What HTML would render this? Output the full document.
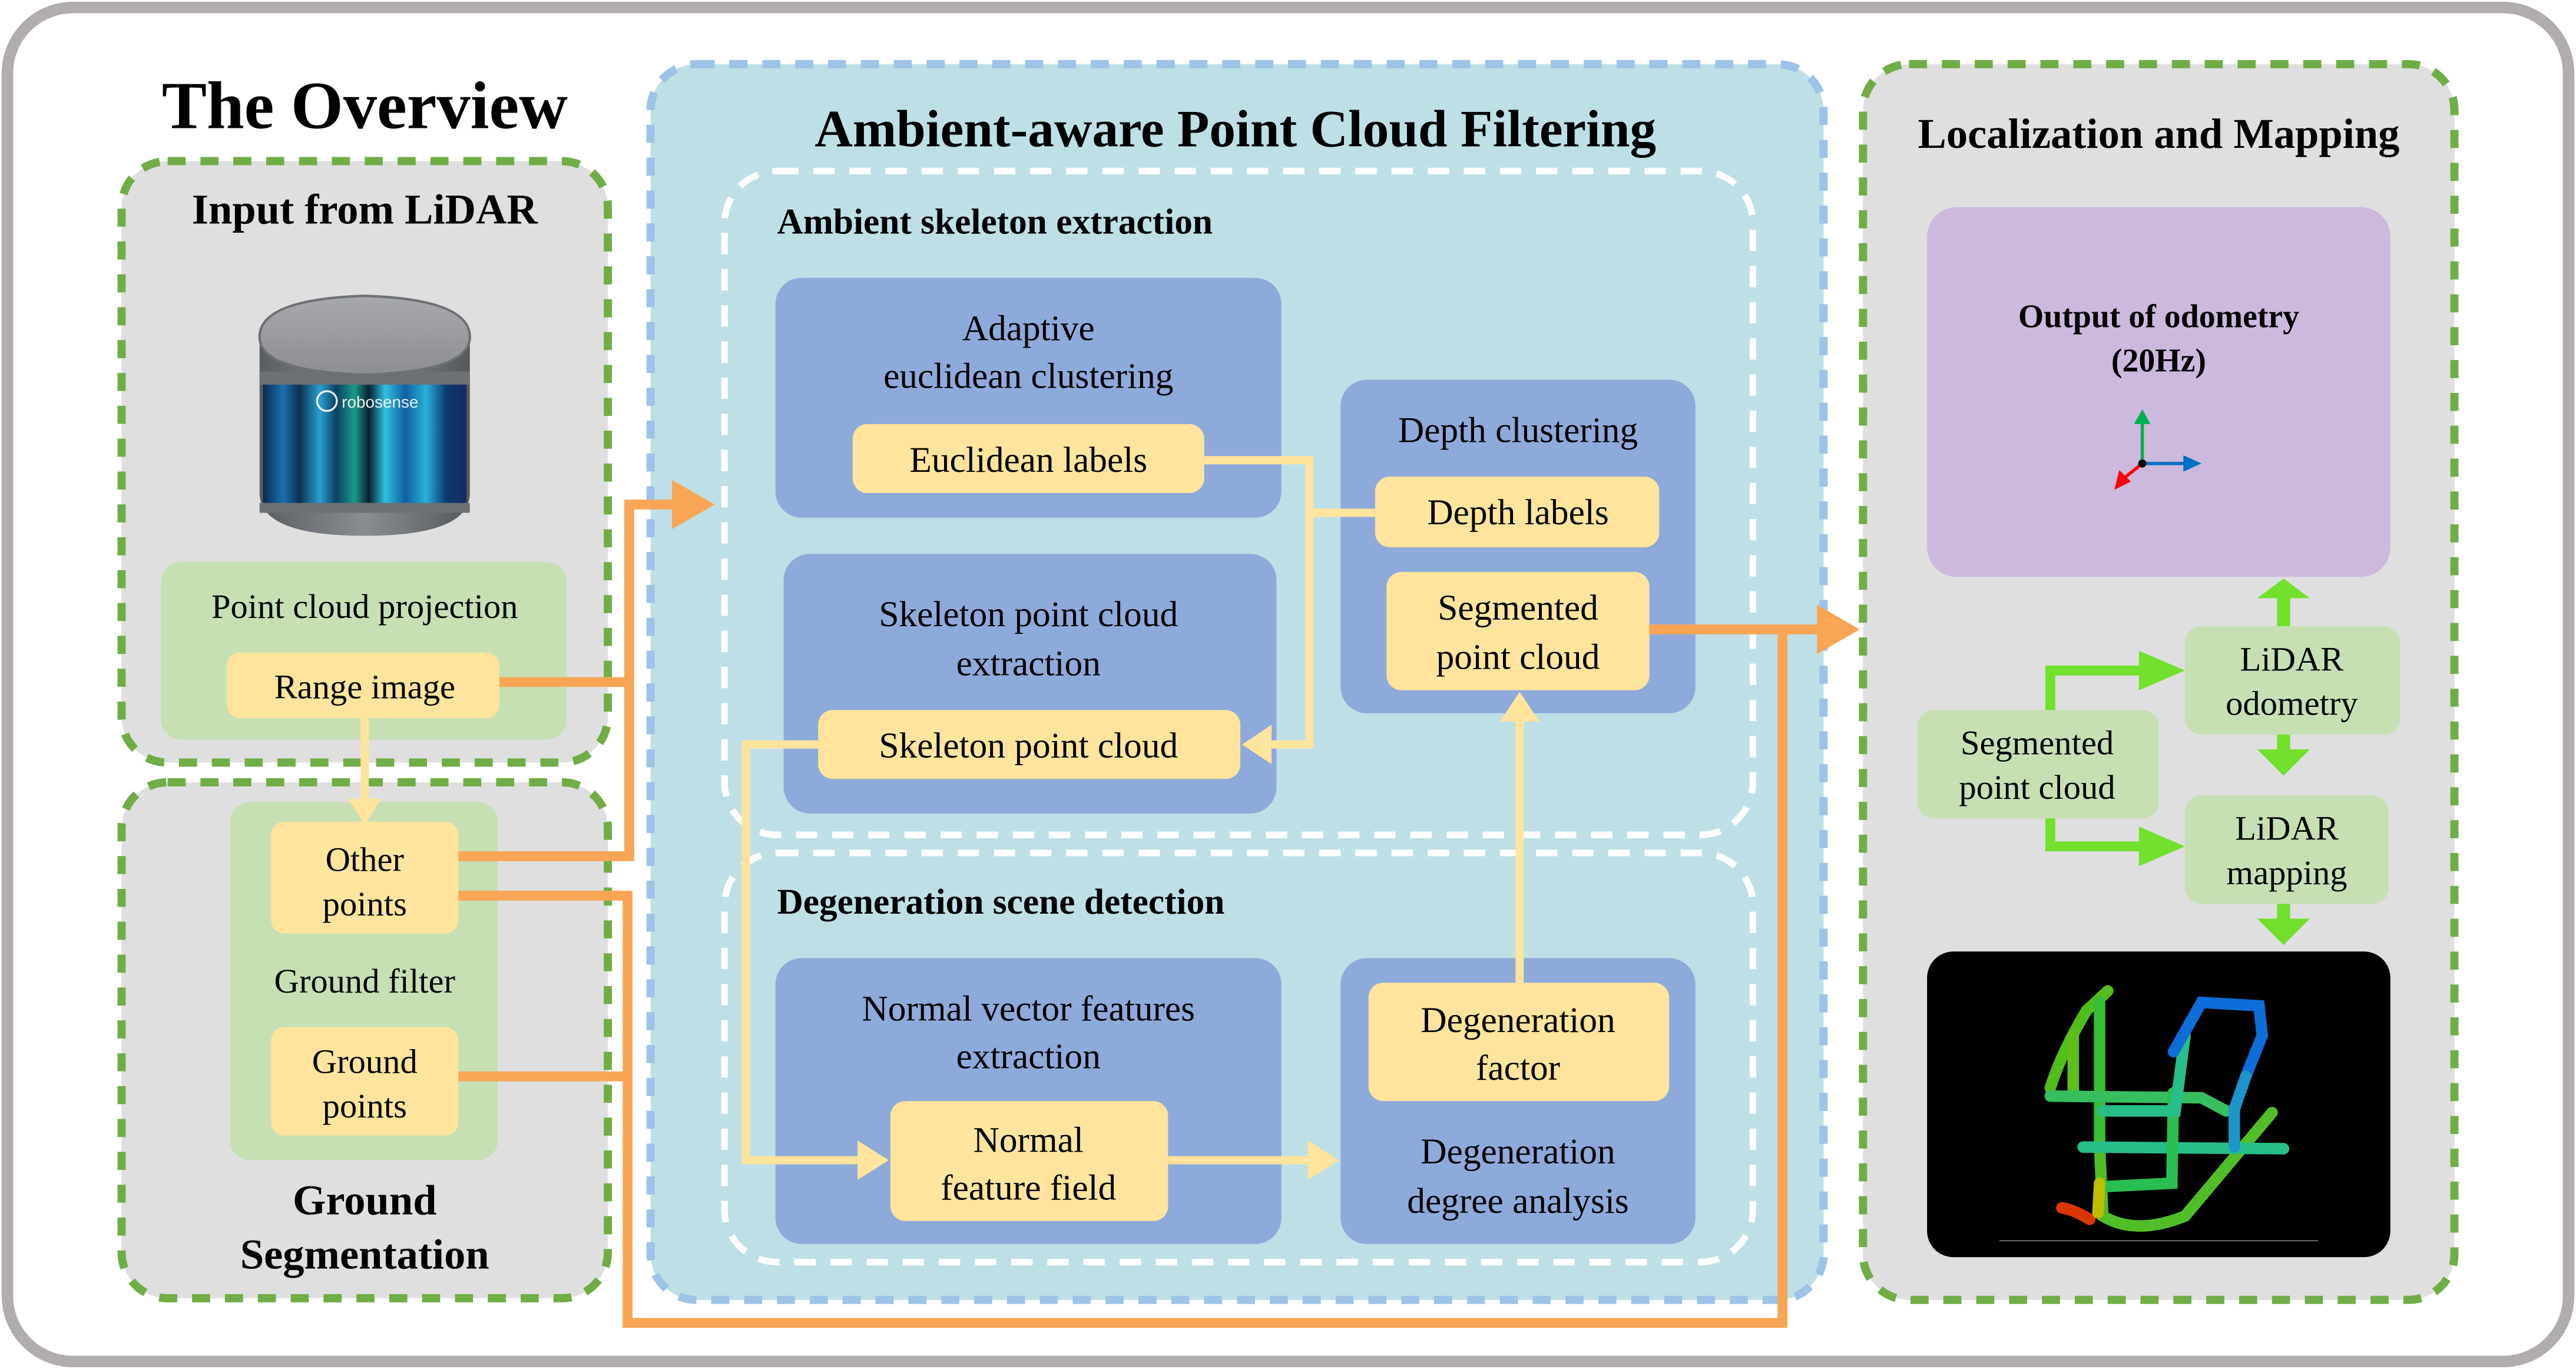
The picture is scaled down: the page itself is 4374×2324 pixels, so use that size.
<!DOCTYPE html>
<html><head><meta charset="utf-8"><style>html,body{margin:0;padding:0;background:#fff}svg{display:block}svg text{font-family:"Liberation Serif","Times New Roman",serif}</style></head>
<body>
<svg xmlns="http://www.w3.org/2000/svg" width="4374" height="2324" viewBox="0 0 1568 833" style="font-family:'Liberation Serif',serif">
<defs>
<linearGradient id="band" x1="0" x2="1">
<stop offset="0" stop-color="#0a2a50"/><stop offset="0.1" stop-color="#1c6fb0"/><stop offset="0.18" stop-color="#0b3050"/><stop offset="0.28" stop-color="#2aa0d0"/><stop offset="0.36" stop-color="#0a4060"/><stop offset="0.45" stop-color="#1b9a8a"/><stop offset="0.52" stop-color="#062030"/><stop offset="0.6" stop-color="#30c0e0"/><stop offset="0.7" stop-color="#1060a0"/><stop offset="0.8" stop-color="#2ab0d8"/><stop offset="0.9" stop-color="#0a3a70"/><stop offset="1" stop-color="#1a2a60"/>
</linearGradient>
<linearGradient id="metal" x1="0" x2="1"><stop offset="0" stop-color="#5a5d63"/><stop offset="0.5" stop-color="#8a8d92"/><stop offset="1" stop-color="#55585d"/></linearGradient>
<linearGradient id="top" x1="0" y1="0" x2="0" y2="1"><stop offset="0" stop-color="#a8a9ad"/><stop offset="1" stop-color="#8d8e92"/></linearGradient>
</defs>
<rect x="0" y="0" width="1568" height="833" fill="#fff"/>
<rect x="4.5" y="4.5" width="1559" height="824" rx="40" fill="#fff" stroke="#b0adac" stroke-width="7"/>

<text x="222" y="78" font-size="41" font-weight="bold" text-anchor="middle">The Overview</text>

<!-- Input from LiDAR -->
<rect x="74" y="98" width="296" height="366" rx="28" fill="#dfdfdf" stroke="#70ad47" stroke-width="5" stroke-dasharray="11 9"/>
<text x="222" y="136" font-size="26" font-weight="bold" text-anchor="middle">Input from LiDAR</text>
<g>
<path d="M158 205 L158 300 Q158 326 222 326 Q286 326 286 300 L286 205 Z" fill="url(#metal)"/>
<rect x="160" y="232" width="124" height="78" fill="url(#band)"/>
<rect x="158" y="226" width="128" height="8" fill="#6d7075"/>
<rect x="158" y="306" width="128" height="6" fill="#6d7075"/>
<path d="M158 205 Q158 182 222 180 Q286 182 286 205 Q286 226 222 228 Q158 226 158 205 Z" fill="url(#top)" stroke="#6d7075" stroke-width="1.5"/>
<circle cx="199" cy="244" r="6" fill="none" stroke="#eee" stroke-width="1.2"/>
<text x="208" y="248" font-size="10" fill="#eee" style="font-family:'Liberation Sans',sans-serif">robosense</text>
</g>
<rect x="98" y="342" width="247" height="108" rx="12" fill="#c6e0b4"/>
<text x="222" y="376" font-size="21" text-anchor="middle">Point cloud projection</text>
<rect x="138" y="397" width="166" height="40" rx="8" fill="#fee49c"/>
<text x="222" y="425" font-size="21" text-anchor="middle">Range image</text>

<!-- Ground seg -->
<rect x="74" y="476" width="296" height="314" rx="28" fill="#dfdfdf" stroke="#70ad47" stroke-width="5" stroke-dasharray="11 9"/>
<rect x="140" y="488" width="163" height="218" rx="12" fill="#c6e0b4"/>
<rect x="165" y="500" width="114" height="68" rx="8" fill="#fee49c"/>
<text x="222" y="530" font-size="21" text-anchor="middle">Other</text>
<text x="222" y="557" font-size="21" text-anchor="middle">points</text>
<text x="222" y="604" font-size="21" text-anchor="middle">Ground filter</text>
<rect x="165" y="625" width="114" height="66" rx="8" fill="#fee49c"/>
<text x="222" y="653" font-size="21" text-anchor="middle">Ground</text>
<text x="222" y="680" font-size="21" text-anchor="middle">points</text>
<text x="222" y="739" font-size="26" font-weight="bold" text-anchor="middle">Ground</text>
<text x="222" y="772" font-size="26" font-weight="bold" text-anchor="middle">Segmentation</text>
<line x1="222" y1="437" x2="222" y2="488" stroke="#fee49c" stroke-width="5"/>
<polygon points="212,486 232,486 222,502" fill="#fee49c"/>

<!-- Ambient panel -->
<rect x="396" y="39" width="714" height="752" rx="28" fill="#bedfe6" stroke="#9dc3e6" stroke-width="5" stroke-dasharray="11 9"/>
<text x="752" y="89" font-size="32" font-weight="bold" text-anchor="middle">Ambient-aware Point Cloud Filtering</text>
<rect x="441" y="104" width="626" height="404" rx="32" fill="none" stroke="#fff" stroke-width="4" stroke-dasharray="13 9"/>
<rect x="441" y="519" width="626" height="249" rx="32" fill="none" stroke="#fff" stroke-width="4" stroke-dasharray="13 9"/>
<text x="473" y="142" font-size="22" font-weight="bold">Ambient skeleton extraction</text>
<text x="473" y="556" font-size="22" font-weight="bold">Degeneration scene detection</text>

<rect x="472" y="169" width="308" height="146" rx="16" fill="#8eaadb"/>
<text x="626" y="207" font-size="22" text-anchor="middle">Adaptive</text>
<text x="626" y="236" font-size="22" text-anchor="middle">euclidean clustering</text>
<rect x="519" y="258" width="214" height="42" rx="9" fill="#fee49c"/>
<text x="626" y="287" font-size="22" text-anchor="middle">Euclidean labels</text>

<rect x="477" y="337" width="300" height="158" rx="16" fill="#8eaadb"/>
<text x="626" y="381" font-size="22" text-anchor="middle">Skeleton point cloud</text>
<text x="626" y="411" font-size="22" text-anchor="middle">extraction</text>
<rect x="498" y="432" width="257" height="42" rx="9" fill="#fee49c"/>
<text x="626" y="461" font-size="22" text-anchor="middle">Skeleton point cloud</text>

<rect x="816" y="231" width="216" height="203" rx="16" fill="#8eaadb"/>
<text x="924" y="269" font-size="22" text-anchor="middle">Depth clustering</text>
<rect x="837" y="290" width="173" height="43" rx="9" fill="#fee49c"/>
<text x="924" y="319" font-size="22" text-anchor="middle">Depth labels</text>
<rect x="844" y="348" width="160" height="72" rx="9" fill="#fee49c"/>
<text x="924" y="377" font-size="22" text-anchor="middle">Segmented</text>
<text x="924" y="407" font-size="22" text-anchor="middle">point cloud</text>

<rect x="472" y="583" width="308" height="174" rx="16" fill="#8eaadb"/>
<text x="626" y="621" font-size="22" text-anchor="middle">Normal vector features</text>
<text x="626" y="650" font-size="22" text-anchor="middle">extraction</text>
<rect x="542" y="670" width="169" height="73" rx="9" fill="#fee49c"/>
<text x="626" y="701" font-size="22" text-anchor="middle">Normal</text>
<text x="626" y="730" font-size="22" text-anchor="middle">feature field</text>

<rect x="816" y="583" width="216" height="174" rx="16" fill="#8eaadb"/>
<rect x="833" y="598" width="183" height="72" rx="9" fill="#fee49c"/>
<text x="924" y="628" font-size="22" text-anchor="middle">Degeneration</text>
<text x="924" y="657" font-size="22" text-anchor="middle">factor</text>
<text x="924" y="708" font-size="22" text-anchor="middle">Degeneration</text>
<text x="924" y="738" font-size="22" text-anchor="middle">degree analysis</text>

<g fill="none" stroke="#fee49c" stroke-width="5">
<polyline points="733,280 797,280 797,453 774,453"/>
<line x1="797" y1="312" x2="837" y2="312"/>
<polyline points="498,453 454,453 454,706 524,706"/>
<line x1="711" y1="706" x2="798" y2="706"/>
<line x1="925" y1="598" x2="925" y2="437"/>
</g>
<g fill="#fee49c">
<polygon points="774,441 774,465 756,453"/>
<polygon points="522,694 522,718 541,706"/>
<polygon points="796,694 796,718 815,706"/>
<polygon points="913,439 937,439 925,421"/>
</g>

<g fill="none" stroke="#f8a655" stroke-width="6">
<line x1="304" y1="415" x2="383" y2="415"/>
<polyline points="383,521 383,307 412,307"/>
<line x1="279" y1="521" x2="386" y2="521"/>
<polyline points="279,545 382,545 382,805 1085,805 1085,383"/>
<line x1="279" y1="655" x2="382" y2="655"/>
<line x1="1004" y1="383" x2="1110" y2="383"/>
</g>
<g fill="#f8a655">
<polygon points="409,292 409,322 435,307"/>
<polygon points="1106,368 1106,398 1132,383"/>
</g>

<!-- Localization panel -->
<rect x="1134" y="39" width="360" height="752" rx="28" fill="#dfdfdf" stroke="#70ad47" stroke-width="5" stroke-dasharray="11 9"/>
<text x="1314" y="90" font-size="26" font-weight="bold" text-anchor="middle">Localization and Mapping</text>
<rect x="1173" y="126" width="282" height="225" rx="18" fill="#cdb9de"/>
<text x="1314" y="199" font-size="20" font-weight="bold" text-anchor="middle">Output of odometry</text>
<text x="1314" y="226" font-size="20" font-weight="bold" text-anchor="middle">(20Hz)</text>
<line x1="1304" y1="282" x2="1304" y2="256" stroke="#00b050" stroke-width="2"/>
<polygon points="1299,258 1309,258 1304,249" fill="#00b050"/>
<line x1="1304" y1="282" x2="1330" y2="282" stroke="#0070c0" stroke-width="2"/>
<polygon points="1329,277 1329,287 1340,282" fill="#0070c0"/>
<line x1="1304" y1="282" x2="1294" y2="290" stroke="#ff0000" stroke-width="2"/>
<polygon points="1290,286 1297,293 1287,298" fill="#ff0000"/>
<circle cx="1304" cy="282" r="2.5" fill="#000"/>

<rect x="1330" y="381" width="131" height="66" rx="10" fill="#c6e0b4"/>
<text x="1395" y="408" font-size="21" text-anchor="middle">LiDAR</text>
<text x="1395" y="435" font-size="21" text-anchor="middle">odometry</text>
<rect x="1167" y="432" width="147" height="66" rx="10" fill="#c6e0b4"/>
<text x="1240" y="459" font-size="21" text-anchor="middle">Segmented</text>
<text x="1240" y="486" font-size="21" text-anchor="middle">point cloud</text>
<rect x="1330" y="484" width="124" height="66" rx="10" fill="#c6e0b4"/>
<text x="1392" y="511" font-size="21" text-anchor="middle">LiDAR</text>
<text x="1392" y="538" font-size="21" text-anchor="middle">mapping</text>

<g fill="#72e02c">
<rect x="1386" y="363" width="8" height="18"/>
<polygon points="1374,364 1406,364 1390,352"/>
<rect x="1386" y="447" width="8" height="10"/>
<polygon points="1374,456 1406,456 1390,472"/>
<rect x="1386" y="550" width="8" height="10"/>
<polygon points="1374,559 1406,559 1390,575"/>
<polygon points="1245,432 1245,405 1305,405 1305,411 1251,411 1251,432"/>
<polygon points="1302,396 1302,420 1330,408"/>
<polygon points="1245,498 1245,518 1305,518 1305,512 1251,512 1251,498"/>
<polygon points="1302,503 1302,527 1330,515"/>
</g>

<!-- map -->
<rect x="1173" y="579" width="282" height="186" rx="16" fill="#000"/>
<line x1="1217" y1="755" x2="1411" y2="755" stroke="#777" stroke-width="0.6"/>
<g fill="none" stroke-width="7" stroke-linecap="round" opacity="0.85">
<path d="M1248 662 Q1255 640 1270 615 L1283 603" stroke="#60e020"/>
<path d="M1262 630 L1262 667" stroke="#70e020"/>
<path d="M1278 610 L1278 700" stroke="#40e040"/>
<path d="M1278 697 L1280 740 Q1300 752 1330 740 L1383 677" stroke="#60e030"/>
<path d="M1248 667 L1340 668 L1355 676" stroke="#40e070"/>
<path d="M1268 698 L1390 699" stroke="#30e0a0"/>
<path d="M1323 665 L1322 720 L1282 722" stroke="#30e060"/>
<path d="M1280 676 L1324 676 L1330 630" stroke="#30e0a0"/>
<path d="M1323 640 L1340 610 L1375 612 L1377 630 L1367 655" stroke="#1080ff"/>
<path d="M1367 655 L1360 675 L1360 698" stroke="#20b0f0"/>
<path d="M1272 742 Q1262 736 1255 735" stroke="#ff4000"/>
<path d="M1277 738 L1278 720" stroke="#e0e000"/>
</g>
</svg>
</body></html>
